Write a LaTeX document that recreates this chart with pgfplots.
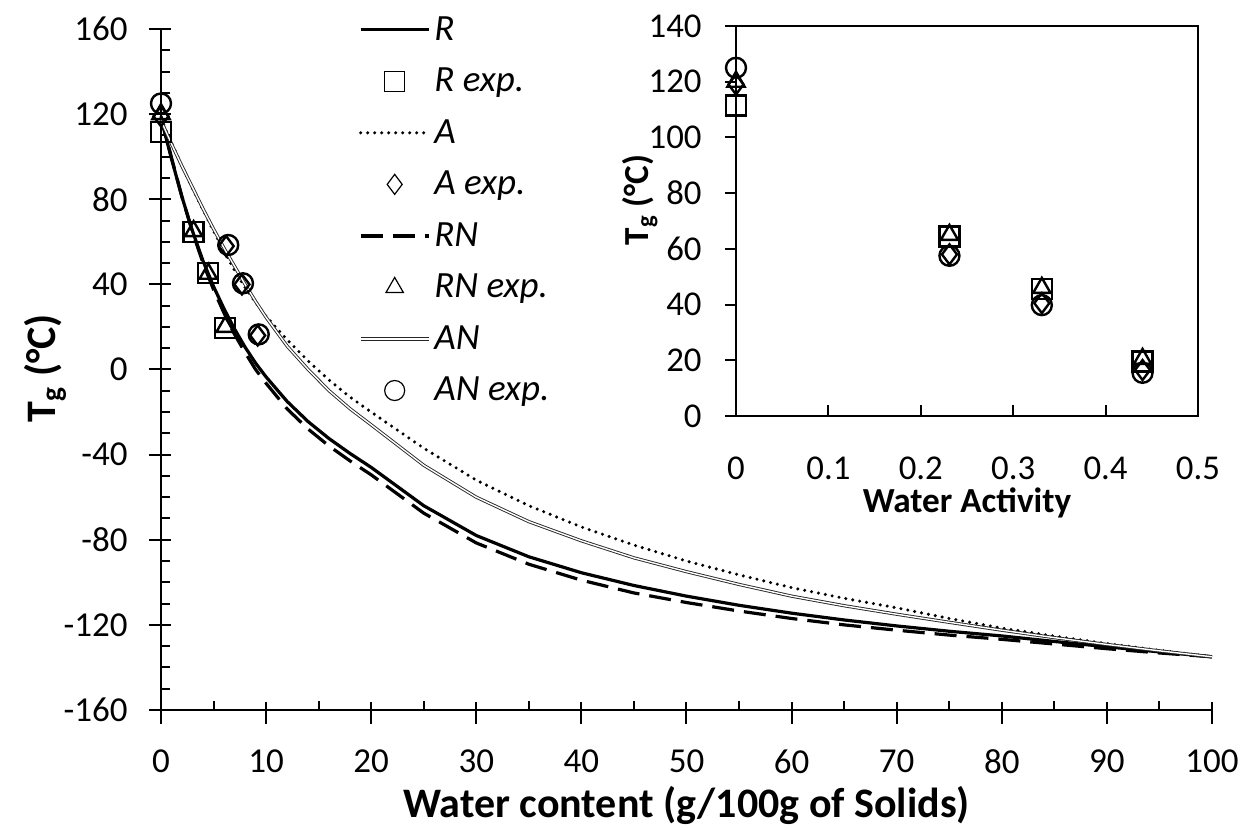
\documentclass[border=0pt]{standalone}
\usepackage{fontspec}
\setmainfont{Carlito}
\usepackage{pgfplots}
\pgfplotsset{compat=1.18}
\newcommand\fs{\fontsize{17.5}{21}\selectfont}
\newcommand\fsi{\fontsize{17.4}{20.8}\selectfont}
\newcommand\fleg{\fontsize{18.5}{22}\selectfont}
\newcommand\ftitle{\fontsize{21}{25}\selectfont}
\newcommand\finset{\fontsize{17.6}{21}\selectfont}

\pgfplotsset{
  rline/.style={black, line width=1.6pt},
  aline/.style={black, line width=1.7pt, line cap=round, dash pattern=on 0pt off 3.5pt},
  rnline/.style={black, line width=1.6pt, dash pattern=on 11pt off 5pt},
  anline/.style={black!85, line width=0.45pt, double=white, double distance=0.7pt},
  expmark/.style={only marks, mark=#1, mark size=5pt, mark options={black, line width=1.2pt, fill=none}},
}

\begin{document}
\begin{tikzpicture}[font=\fs]
\path[use as bounding box] (-80.5pt,-60pt) rectangle (544pt,355pt);

% main plot
\begin{axis}[
  at={(0pt,0pt)}, anchor=south west,
  scale only axis, width=525.5pt, height=340.5pt,
  xmin=0, xmax=100, ymin=-160, ymax=160,
  axis lines*=left, clip=false,
  axis line style={line width=1pt},
  xtick={0,10,...,100}, ytick={-160,-120,...,160},
  minor x tick num=1, minor y tick num=3,
  tick align=inside,
  major tick length=11pt, minor tick length=4.5pt,
  tick style={black, line width=1pt},
  every major x tick/.append style={yshift=-7pt},
  every major y tick/.append style={xshift=-6pt},
  /pgf/number format/assume math mode=true,
  tick label style={inner sep=0pt, font=\fs},
  xticklabel style={yshift=-19.5pt},
  yticklabel style={xshift=-16.5pt},
  xlabel={\textbf{Water content (g/100g of Solids)}},
  xlabel style={at={(axis description cs:0.5,-0.1395)}, anchor=center, font=\ftitle},
  ylabel={\textbf{T\textsubscript{g} (°C)}},
  ylabel style={at={(axis description cs:-0.110,0.502)}, anchor=center, font=\ftitle},
  legend cell align=left,
  legend style={at={(axis cs:18.8,168)}, anchor=north west, draw=none, fill=none,
    font=\fleg\itshape, row sep=8.4pt, inner sep=0pt, nodes={inner sep=2pt}},
  legend image code/.code={\draw[mark repeat=2,mark phase=2,#1,mark options={line width=0.6pt,fill=none}] plot coordinates {(0pt,0pt) (17pt,0pt) (34pt,0pt)};},
]
\addplot[rline] coordinates {
(0,118) (1,99) (2,81) (3,65) (4,51) (5,39) (6,28.5) (7,19) (8,10.5) (9,3) (10,-3.5)
(12,-15) (14,-24.5) (16,-32.5) (18,-39.5) (20,-46) (25,-64) (30,-78) (35,-88) (40,-95.5)
(45,-101.5) (50,-106.5) (55,-110.8) (60,-114.5) (65,-117.7) (70,-120.5) (75,-123)
(80,-125.2) (85,-127.8) (90,-130.3) (95,-132.7) (100,-135)};
\addlegendentry{R}
\addplot[expmark=square] coordinates {(0,111.5) (3.1,64.6) (4.5,45.3) (6.1,19.5)};
\addlegendentry{R exp.}
\addplot[aline] coordinates {
(0,118) (1,106.5) (2,95.5) (3,85) (4,75) (5,65) (6,55.5) (7,46.5) (8,38.5) (9,31.5) (10,25)
(12,14) (14,4) (16,-5) (18,-13) (20,-20) (25,-37) (30,-52) (35,-64) (40,-74)
(45,-82.5) (50,-90) (55,-96.5) (60,-102.5) (65,-107.5) (70,-112) (75,-117)
(80,-121.5) (85,-125.3) (90,-128.8) (95,-132) (100,-135)};
\addlegendentry{A}
\addplot[expmark=diamond] coordinates {(0,119) (6.2,58) (7.7,40) (9.2,16)};
\addlegendentry{A exp.}
\addplot[rnline] coordinates {
(0,119) (1,99.5) (2,81) (3,64.5) (4,50) (5,37.5) (6,26.5) (7,16.5) (8,8) (9,0) (10,-6.5)
(12,-18.5) (14,-28) (16,-36) (18,-43) (20,-49.5) (25,-67.5) (30,-81.5) (35,-91.5) (40,-99)
(45,-105) (50,-109.5) (55,-113.5) (60,-117) (65,-120) (70,-122.5) (75,-124.8)
(80,-126.8) (85,-129) (90,-131.2) (95,-133.2) (100,-135)};
\addlegendentry{RN}
\addplot[expmark=triangle] coordinates {(0,120) (3.1,65) (4.5,45) (6.1,20)};
\addlegendentry{RN exp.}
\addplot[anline] coordinates {
(0,117) (1,106) (2,95.5) (3,85.5) (4,75.5) (5,66) (6,57) (7,48.5) (8,40) (9,32) (10,24.5)
(12,11) (14,0) (16,-10) (18,-18.5) (20,-26) (25,-45) (30,-60) (35,-71.5) (40,-80.5)
(45,-88.5) (50,-95) (55,-101) (60,-106.5) (65,-111) (70,-115) (75,-118.8)
(80,-122.5) (85,-126) (90,-129.2) (95,-132.2) (100,-135)};
\addlegendentry{AN}
\addplot[expmark=o] coordinates {(0,125) (6.4,58.5) (7.8,40.5) (9.3,16.5)};
\addlegendentry{AN exp.}
\end{axis}

% inset
\begin{axis}[
  at={(287.5pt,147pt)}, anchor=south west,
  scale only axis, width=231pt, height=195pt,
  xmin=0, xmax=0.5, ymin=0, ymax=140, clip=false,
  axis line style={line width=1pt},
  xtick={0,0.1,0.2,0.3,0.4,0.5}, ytick={0,20,...,140},
  xtick pos=bottom, ytick pos=left,
  tick align=inside, major tick length=5.5pt,
  tick style={black, line width=1pt},
  every major y tick/.append style={xshift=-5.5pt},
  /pgf/number format/assume math mode=true,
  tick label style={inner sep=0pt, font=\fsi},
  xticklabel style={yshift=-20.5pt},
  yticklabel style={xshift=-17pt},
  xlabel={\textbf{Water Activity}},
  xlabel style={at={(axis description cs:0.5,-0.2225)}, anchor=center, font=\finset},
  ylabel={\textbf{T\textsubscript{g} (°C)}},
  ylabel style={at={(axis description cs:-0.208,0.554)}, anchor=center, font=\finset},
]
\addplot[expmark=square] coordinates {(0,111.5) (0.231,64.5) (0.331,45.5) (0.44,19.5)};
\addplot[expmark=diamond] coordinates {(0,119) (0.231,58) (0.331,40.5) (0.44,16.5)};
\addplot[expmark=triangle] coordinates {(0,120) (0.231,65) (0.331,46) (0.44,20.5)};
\addplot[expmark=o] coordinates {(0,125) (0.231,57.5) (0.331,39.8) (0.44,15.5)};
\end{axis}
\end{tikzpicture}
\end{document}
